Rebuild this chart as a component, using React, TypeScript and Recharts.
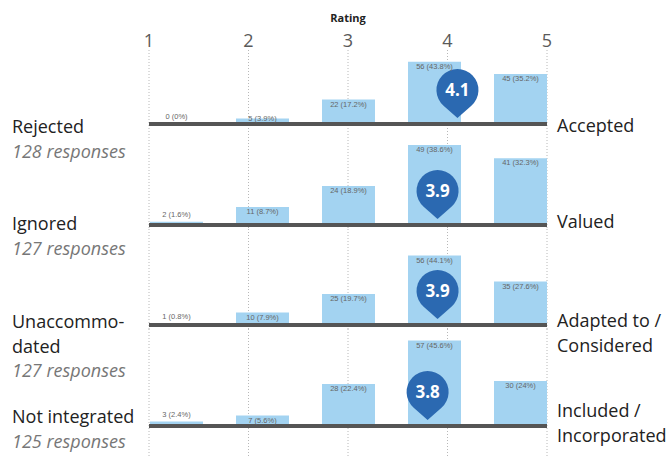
import {
  ComposedChart,
  Bar,
  XAxis,
  YAxis,
  CartesianGrid,
  ReferenceLine,
  ReferenceDot,
  LabelList,
} from "recharts"

const ratings = [1, 2, 3, 4, 5]
const leftLabels = [["Rejected"], ["Ignored"], ["Unaccommo-", "dated"], ["Not integrated"]]
const responses = [128, 127, 127, 125]
const rightLabels = [["Accepted"], ["Valued"], ["Adapted to /", "Considered"], ["Included /", "Incorporated"]]
const counts = [
  [0, 5, 22, 56, 45],
  [2, 11, 24, 49, 41],
  [1, 10, 25, 56, 35],
  [3, 7, 28, 57, 30],
]
const means = [4.1, 3.9, 3.9, 3.8]

// layout per row
const rowTops = [0, 128, 229, 329]
const rowHeights = [128, 101, 100, 129]
const yDomains = [
  [-3.6, 66.7],
  [-2.45, 59.5],
  [-3.2, 77.4],
  [-20, 64.7],
]
const leftTops = [114, 211, 309, 404]
const rightTops = [113, 209, 308, 398]

const FONT = "'Open Sans', sans-serif"
const BAR = "#a3d3f1"
const PIN = "#2b69b1"
const AXIS_PAD = 16

function pct(c: number, total: number) {
  return `${+((c / total) * 100).toFixed(1)}%`
}

function RatingTick(props: any) {
  const { x, y, payload } = props
  return (
    <text x={x} y={y} textAnchor="middle" fontSize={18} fill="#5a5a5a" fontFamily={FONT}>
      {payload.value}
    </text>
  )
}

function BarLabel(props: any) {
  const x = Number(props.x)
  const y = Number(props.y)
  const w = Number(props.width)
  const h = Number(props.height)
  const ty = h >= 5 ? Math.min(y + 7, y + h - 3.5) : y - 5
  return (
    <text x={x + w / 2} y={ty} textAnchor="middle" fontSize={7.5} fill="#666" fontFamily="Liberation Sans, Arial">
      {props.value}
    </text>
  )
}

function Pin({ cx, cy, value }: { cx: number; cy: number; value: number }) {
  const tip = cy - 6
  const cyc = cy - 34
  const r = 21
  const d = `M ${cx} ${tip} L ${cx - 13.9} ${cyc + 15.75} A ${r} ${r} 0 1 1 ${cx + 13.9} ${cyc + 15.75} Z`
  return (
    <g>
      <path d={d} fill={PIN} />
      <text x={cx} y={cyc} dy="0.36em" textAnchor="middle" fontSize={17} fontWeight="bold" fill="#fff" fontFamily={FONT}>
        {value.toFixed(1)}
      </text>
    </g>
  )
}

function gridX(props: any) {
  const axis = props.xAxis
  if (axis && typeof axis.scale === "function") {
    return ratings.map((r) => axis.scale(r))
  }
  const { left, width } = props.offset
  return ratings.map((r) => left + AXIS_PAD + ((r - 1) * (width - 2 * AXIS_PAD)) / 4)
}

function Row({ row }: { row: number }) {
  const total = responses[row]
  const data = ratings.map((r, i) => ({
    rating: r,
    count: counts[row][i],
    text: `${counts[row][i]} (${pct(counts[row][i], total)})`,
  }))
  const first = row === 0
  const last = row === counts.length - 1
  return (
    <div style={{ position: "absolute", left: 0, top: rowTops[row] }}>
      <ComposedChart
        width={670}
        height={rowHeights[row]}
        data={data}
        margin={{ top: first ? 20 : 0, right: 107, bottom: last ? 2 : 0, left: 133 }}
      >
        <XAxis xAxisId="bars" dataKey="rating" type="category" hide />
        <XAxis
          xAxisId="rating"
          dataKey="rating"
          type="number"
          domain={[1, 5]}
          allowDataOverflow
          ticks={ratings}
          padding={{ left: AXIS_PAD, right: AXIS_PAD }}
          orientation="top"
          height={30}
          hide={!first}
          axisLine={false}
          tickLine={false}
          tickSize={0}
          tickMargin={3}
          tick={<RatingTick />}
          interval={0}
        />
        <YAxis type="number" domain={yDomains[row]} allowDataOverflow hide />
        <CartesianGrid
          xAxisId="rating"
          horizontal={false}
          verticalCoordinatesGenerator={gridX}
          stroke="#b8b8b8"
          strokeDasharray="1 2"
        />
        <Bar
          xAxisId="bars"
          dataKey="count"
          fill={BAR}
          barSize={53}
          minPointSize={0.5}
          isAnimationActive={false}
        >
          <LabelList dataKey="text" content={<BarLabel />} />
        </Bar>
        <ReferenceLine
          xAxisId="rating"
          segment={[
            { x: 1, y: 0 },
            { x: 5, y: 0 },
          ]}
          stroke="#555"
          strokeWidth={4}
          ifOverflow="visible"
        />
        <ReferenceDot
          xAxisId="rating"
          x={means[row]}
          y={0}
          r={0}
          ifOverflow="visible"
          shape={(p: any) => <Pin cx={p.cx} cy={p.cy} value={means[row]} />}
        />
      </ComposedChart>
    </div>
  )
}

export default function App() {
  return (
    <div
      style={{
        position: "absolute",
        left: 0,
        top: 0,
        width: 670,
        height: 458,
        background: "#fff",
        fontFamily: FONT,
        overflow: "hidden",
      }}
    >
      {counts.map((_, row) => (
        <Row key={row} row={row} />
      ))}
      <div
        style={{
          position: "absolute",
          left: 298,
          top: 10,
          width: 100,
          textAlign: "center",
          fontSize: 11,
          fontWeight: "bold",
          color: "#222",
        }}
      >
        Rating
      </div>
      {leftLabels.map((lines, row) => (
        <div
          key={"l" + row}
          style={{ position: "absolute", left: 12, top: leftTops[row], fontSize: 18, lineHeight: "24.5px", color: "#222" }}
        >
          {lines.map((t) => (
            <div key={t}>{t}</div>
          ))}
          <div style={{ fontStyle: "italic", color: "#777" }}>{responses[row]} responses</div>
        </div>
      ))}
      {rightLabels.map((lines, row) => (
        <div
          key={"r" + row}
          style={{ position: "absolute", left: 557, top: rightTops[row], fontSize: 18, lineHeight: "24.5px", color: "#222" }}
        >
          {lines.map((t) => (
            <div key={t}>{t}</div>
          ))}
        </div>
      ))}
    </div>
  )
}
